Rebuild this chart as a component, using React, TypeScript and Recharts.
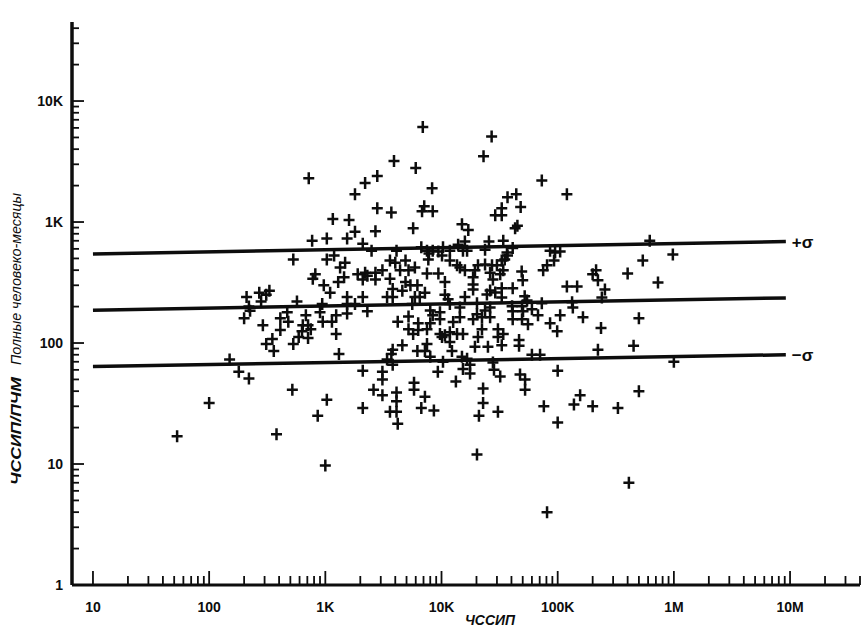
import { ScatterChart, Scatter, XAxis, YAxis } from "recharts";

// ЧССИП (x) against ЧССИП/ПЧМ (y), both log scales
const ABOVE_BAND: [number, number][] = [
  [6900, 6100], [27000, 5100], [23000, 3500], [3900, 3200], [6000, 2800], [720, 2300],
  [2200, 2100], [2800, 2400], [8300, 1900], [1800, 1700], [2800, 1300], [3700, 1200],
  [7100, 1350], [6800, 1230], [8400, 1230], [48000, 1330], [29000, 1140], [33000, 1140],
  [33000, 1300], [37000, 1600], [44000, 1700], [73000, 2200], [120000, 1700], [1160, 1060],
  [1600, 1040], [1800, 830], [2700, 840], [5700, 890], [43000, 890], [45000, 930],
  [15000, 960], [17000, 860],
];

const LEFT_CLUSTER: [number, number][] = [
  [770, 700], [1030, 730], [1540, 730], [530, 490], [1030, 490], [1190, 530], [1480, 460],
  [1340, 420], [820, 370], [780, 340], [1450, 350], [970, 300], [1290, 320], [1100, 260],
  [1540, 240], [1540, 210], [330, 270], [310, 250], [280, 220], [570, 220], [220, 200],
  [225, 185], [200, 160], [410, 160], [470, 180], [940, 210], [900, 180], [1240, 170],
  [1540, 175], [290, 140], [480, 150], [640, 140], [710, 140], [950, 150], [1140, 150],
  [680, 170], [750, 130], [210, 240], [270, 260],
  [150, 73], [180, 58], [220, 51], [520, 41], [1030, 34], [860, 25], [380, 17.6], [360, 86],
  [310, 98], [350, 108], [410, 128], [530, 98], [590, 112], [630, 125], [710, 110],
  [1240, 119], [1310, 81], [53, 17], [100, 32], [1000, 9.7],
];

const CENTRAL: [number, number][] = [
  [2100, 660], [2500, 580], [4100, 580], [6700, 620], [7500, 580], [8400, 580], [9400, 570],
  [10300, 620], [11800, 580], [13900, 650], [15300, 580], [16600, 580], [3600, 480],
  [4000, 460], [4900, 480], [7700, 490], [7800, 550], [11800, 480], [10100, 530],
  [13600, 440], [14400, 420], [15900, 400], [1900, 370], [2200, 380], [2300, 360],
  [2700, 380], [2700, 335], [2100, 335], [3100, 400], [3600, 340], [4400, 400], [5200, 400],
  [5900, 420], [7500, 375], [9400, 375], [10700, 320], [4900, 320], [5400, 300], [6200, 300],
  [3800, 280], [4600, 270], [7200, 260], [6500, 240], [5900, 240], [3400, 240], [3800, 240],
  [2100, 240], [1800, 210], [10700, 250], [11400, 230], [11800, 210], [14400, 197],
  [15900, 240], [2300, 183], [5600, 210], [8000, 186], [8400, 170], [9700, 180], [4200, 150],
  [5200, 166], [6300, 146], [8000, 146], [9700, 157], [12600, 149], [14400, 163], [15900, 690],
];

const CENTRAL_LOW: [number, number][] = [
  [5700, 119], [6300, 128], [7500, 130], [5200, 130], [9700, 119], [10700, 116], [11800, 123],
  [13600, 119], [15300, 119], [11800, 102], [10100, 112], [4600, 96], [3800, 88], [3700, 81],
  [3400, 73], [3800, 66], [6200, 86], [7200, 86], [7500, 98], [8000, 77], [10300, 70],
  [12300, 86], [15000, 77], [16600, 74], [15300, 61], [17600, 66], [17600, 56], [2100, 59],
  [3100, 58], [3100, 50], [2600, 41], [3100, 37], [4100, 39], [4100, 33], [3600, 27],
  [4100, 27], [4200, 21.5], [5800, 47], [5800, 41], [7200, 36], [6700, 29], [8600, 27.7],
  [9300, 58], [13300, 48], [2100, 29], [20200, 12],
];

const RIGHT_UPPER: [number, number][] = [
  [25600, 690], [34000, 700], [23700, 590], [41000, 610], [36600, 560], [37000, 530],
  [35000, 490], [33000, 480], [86000, 580], [95000, 560], [105000, 570], [93000, 480],
  [81000, 440], [75000, 400], [19400, 400], [20600, 440], [23700, 445], [27200, 440],
  [30000, 440], [26200, 380], [32000, 370], [34000, 400], [49000, 390], [50000, 330],
  [27700, 335], [18700, 350], [18700, 305], [18700, 277], [214000, 400], [200000, 370],
  [222000, 330], [255000, 277], [240000, 238], [120000, 293], [147000, 293], [41000, 283],
  [33000, 283], [33000, 238], [26200, 272], [24600, 252], [29000, 262], [52000, 243],
  [54500, 225], [20200, 213], [40500, 201], [41000, 183], [49300, 201], [50300, 183],
  [60000, 190], [73000, 213], [133000, 217], [135000, 197], [20200, 173], [23700, 186],
  [26200, 197], [22300, 163], [26200, 163], [55500, 143], [67700, 170], [86000, 146],
  [105000, 170], [165000, 163], [18700, 157], [41000, 157], [49300, 157], [500000, 160],
  [236000, 133], [620000, 700], [980000, 540], [540000, 480], [400000, 375], [730000, 317],
];

const RIGHT_LOWER: [number, number][] = [
  [22300, 130], [30600, 130], [20600, 112], [30600, 112], [34000, 119], [46500, 106],
  [46500, 95], [19400, 93], [25100, 93], [33000, 96], [99000, 125], [60000, 80], [70500, 80],
  [222000, 88], [27700, 69], [28300, 60], [32000, 53], [47400, 55], [52400, 50], [52400, 41],
  [100000, 59], [22800, 42], [22800, 32], [21000, 25], [30600, 27], [76000, 30],
  [100000, 22], [156000, 37], [138000, 31], [200000, 30], [81000, 4], [410000, 7],
  [500000, 40], [330000, 29], [1000000, 70], [450000, 95],
];

// regression line and ±σ band (straight in log-log)
const TREND_X = [10, 9.2e6];
const TREND_PLUS = [545, 690];
const TREND_MID = [187, 236];
const TREND_MINUS = [64, 80];

const X_MAJOR = [10, 100, 1000, 1e4, 1e5, 1e6, 1e7];
const X_MAJOR_LABELS = ["10", "100", "1K", "10K", "100K", "1M", "10M"];
const Y_MAJOR = [1, 10, 100, 1000, 1e4];
const Y_MAJOR_LABELS = ["1", "10", "100", "1K", "10K"];
const MINOR_STEPS = [2, 3, 4, 5, 6, 7, 8, 9];

const X_DOMAIN: [number, number] = [6.6, 4e7];
const Y_DOMAIN: [number, number] = [1, 45000];

const PLOT_LEFT = 72;
const PLOT_BOTTOM = 585;
const INK = "#0d0d0d";
const TICK_FONT = "'Liberation Sans', Arial, sans-serif";

function logTicks(majors: number[], max: number) {
  const out: number[] = [];
  majors.forEach((m) => {
    out.push(m);
    MINOR_STEPS.forEach((s) => {
      if (m * s <= max) out.push(m * s);
    });
  });
  return out;
}

const X_TICKS = logTicks(X_MAJOR, X_DOMAIN[1]);
const Y_TICKS = logTicks(Y_MAJOR, Y_DOMAIN[1]);

const points = [
  ...ABOVE_BAND,
  ...LEFT_CLUSTER,
  ...CENTRAL,
  ...CENTRAL_LOW,
  ...RIGHT_UPPER,
  ...RIGHT_LOWER,
].map(([x, y]) => ({ x, y }));

const trend = (ys: number[], tag: string) =>
  TREND_X.map((x, i) => ({ x, y: ys[i], tag: i === TREND_X.length - 1 ? tag : "" }));

function PlusMark(props: any) {
  const { cx, cy } = props;
  if (cx == null || cy == null) return <g />;
  return (
    <path
      d={`M${cx - 5.5},${cy}H${cx + 5.5}M${cx},${cy - 6}V${cy + 6}`}
      stroke={INK}
      strokeWidth={2.5}
      fill="none"
    />
  );
}

function TrendEnd(props: any) {
  const { cx, cy, payload } = props;
  if (!payload || !payload.tag) return <g />;
  return (
    <text
      x={cx + 6}
      y={cy + 6}
      fontSize={17}
      fontWeight={700}
      fontFamily={TICK_FONT}
      fill={INK}
    >
      {payload.tag}
    </text>
  );
}

function XTick(props: any) {
  const { x, payload } = props;
  const i = X_MAJOR.indexOf(payload.value);
  const len = i >= 0 ? 14 : 9;
  return (
    <g>
      <line x1={x} x2={x} y1={PLOT_BOTTOM} y2={PLOT_BOTTOM - len} stroke={INK} strokeWidth={1.8} />
      {i >= 0 && (
        <text
          x={x}
          y={PLOT_BOTTOM + 27}
          textAnchor="middle"
          fontSize={14}
          fontWeight={700}
          fontFamily={TICK_FONT}
          fill={INK}
        >
          {X_MAJOR_LABELS[i]}
        </text>
      )}
    </g>
  );
}

function YTick(props: any) {
  const { y, payload } = props;
  const i = Y_MAJOR.indexOf(payload.value);
  const len = i >= 0 ? 12 : 7;
  return (
    <g>
      <line x1={PLOT_LEFT} x2={PLOT_LEFT + len} y1={y} y2={y} stroke={INK} strokeWidth={1.8} />
      {i >= 0 && (
        <text
          x={PLOT_LEFT - 9}
          y={y + 5}
          textAnchor="end"
          fontSize={14}
          fontWeight={700}
          fontFamily={TICK_FONT}
          fill={INK}
        >
          {Y_MAJOR_LABELS[i]}
        </text>
      )}
    </g>
  );
}

export default function App() {
  return (
    <div style={{ position: "relative", width: 866, height: 634, background: "#fff" }}>
      <style>{"body{margin:0;background:#fff}"}</style>
      <ScatterChart
        width={866}
        height={634}
        margin={{ top: 22, right: 6, bottom: 0, left: 0 }}
      >
        <XAxis
          type="number"
          dataKey="x"
          scale="log"
          domain={X_DOMAIN}
          allowDataOverflow
          ticks={X_TICKS}
          interval={0}
          height={49}
          tickSize={0}
          tickMargin={0}
          tickLine={false}
          axisLine={{ stroke: INK, strokeWidth: 3 }}
          tick={<XTick />}
        />
        <YAxis
          type="number"
          dataKey="y"
          scale="log"
          domain={Y_DOMAIN}
          allowDataOverflow
          ticks={Y_TICKS}
          interval={0}
          width={72}
          tickSize={0}
          tickMargin={0}
          tickLine={false}
          axisLine={{ stroke: INK, strokeWidth: 3.5 }}
          tick={<YTick />}
        />
        <Scatter
          data={trend(TREND_PLUS, "+σ")}
          line={{ stroke: INK, strokeWidth: 3.5 }}
          shape={<TrendEnd />}
          isAnimationActive={false}
        />
        <Scatter
          data={trend(TREND_MID, "")}
          line={{ stroke: INK, strokeWidth: 3.5 }}
          shape={<TrendEnd />}
          isAnimationActive={false}
        />
        <Scatter
          data={trend(TREND_MINUS, "−σ")}
          line={{ stroke: INK, strokeWidth: 3.5 }}
          shape={<TrendEnd />}
          isAnimationActive={false}
        />
        <Scatter data={points} shape={<PlusMark />} isAnimationActive={false} />
      </ScatterChart>
      <svg
        width={866}
        height={634}
        style={{ position: "absolute", left: 0, top: 0, pointerEvents: "none" }}
      >
        <text
          x={490}
          y={625}
          textAnchor="middle"
          fontSize={15}
          fontStyle="italic"
          fontWeight={700}
          fontFamily={TICK_FONT}
          fill={INK}
          textLength={50}
          lengthAdjust="spacingAndGlyphs"
        >
          ЧССИП
        </text>
        <text
          x={21}
          y={431}
          transform="rotate(-90 21 431)"
          textAnchor="middle"
          fontSize={15}
          fontStyle="italic"
          fontWeight={700}
          fontFamily={TICK_FONT}
          fill={INK}
          textLength={108}
          lengthAdjust="spacingAndGlyphs"
        >
          ЧССИП/ПЧМ
        </text>
        <text
          x={21}
          y={279}
          transform="rotate(-90 21 279)"
          textAnchor="middle"
          fontSize={15}
          fontStyle="italic"
          fontFamily={TICK_FONT}
          fill={INK}
          textLength={172}
          lengthAdjust="spacingAndGlyphs"
        >
          Полные человеко-месяцы
        </text>
      </svg>
    </div>
  );
}
